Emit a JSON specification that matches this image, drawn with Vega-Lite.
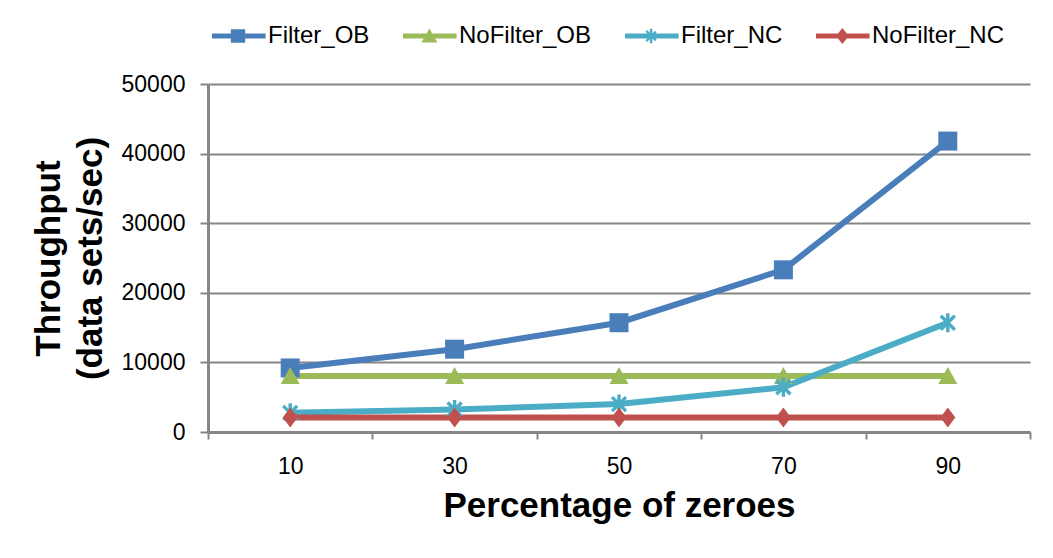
{
  "$schema": "https://vega.github.io/schema/vega-lite/v6.json",
  "width": 822,
  "height": 348,
  "autosize": {"type": "none"},
  "padding": {"left": 208, "top": 84, "right": 23, "bottom": 126},
  "background": "white",
  "config": {"view": {"stroke": null}, "font": "Liberation Sans"},
  "data": {
    "values": [
      {"pct": "10", "series": "Filter_OB", "value": 9200},
      {"pct": "30", "series": "Filter_OB", "value": 11900},
      {"pct": "50", "series": "Filter_OB", "value": 15700},
      {"pct": "70", "series": "Filter_OB", "value": 23300},
      {"pct": "90", "series": "Filter_OB", "value": 41800},
      {"pct": "10", "series": "NoFilter_OB", "value": 8050},
      {"pct": "30", "series": "NoFilter_OB", "value": 8050},
      {"pct": "50", "series": "NoFilter_OB", "value": 8050},
      {"pct": "70", "series": "NoFilter_OB", "value": 8050},
      {"pct": "90", "series": "NoFilter_OB", "value": 8050},
      {"pct": "10", "series": "Filter_NC", "value": 2750},
      {"pct": "30", "series": "Filter_NC", "value": 3240},
      {"pct": "50", "series": "Filter_NC", "value": 4010},
      {"pct": "70", "series": "Filter_NC", "value": 6430},
      {"pct": "90", "series": "Filter_NC", "value": 15700},
      {"pct": "10", "series": "NoFilter_NC", "value": 2100},
      {"pct": "30", "series": "NoFilter_NC", "value": 2100},
      {"pct": "50", "series": "NoFilter_NC", "value": 2100},
      {"pct": "70", "series": "NoFilter_NC", "value": 2100},
      {"pct": "90", "series": "NoFilter_NC", "value": 2100}
    ]
  },
  "encoding": {
    "x": {
      "field": "pct",
      "type": "ordinal",
      "bandPosition": 0.5,
      "sort": ["10", "30", "50", "70", "90"],
      "scale": {"type": "band", "paddingInner": 0, "paddingOuter": 0},
      "axis": {
        "title": "Percentage of zeroes",
        "titleFont": "Liberation Sans",
        "titleFontSize": 35,
        "titleFontWeight": "bold",
        "titleColor": "#000000",
        "titleY": 84,
        "titleBaseline": "alphabetic",
        "labelAngle": 0,
        "labelFont": "Liberation Sans",
        "labelFontSize": 23,
        "labelColor": "#000000",
        "labelPadding": 16,
        "tickBand": "extent",
        "tickSize": 7,
        "tickWidth": 2,
        "tickColor": "#868686",
        "domainColor": "#868686",
        "domainWidth": 3,
        "grid": false
      }
    },
    "y": {
      "field": "value",
      "type": "quantitative",
      "scale": {"domain": [0, 50000], "nice": false},
      "axis": {
        "values": [0, 10000, 20000, 30000, 40000, 50000],
        "format": "d",
        "grid": true,
        "gridColor": "#868686",
        "gridWidth": 2,
        "domainColor": "#868686",
        "domainWidth": 3,
        "tickColor": "#868686",
        "tickWidth": 2,
        "tickSize": 8,
        "labelFont": "Liberation Sans",
        "labelFontSize": 23,
        "labelColor": "#000000",
        "labelPadding": 15,
        "title": ["Throughput", "(data sets/sec)"],
        "titleFont": "Liberation Sans",
        "titleFontSize": 35,
        "titleFontWeight": "bold",
        "titleColor": "#000000",
        "titleX": -160,
        "titleY": 174,
        "titleAngle": 270,
        "titleAlign": "center",
        "titleBaseline": "middle",
        "titleLineHeight": 42
      }
    }
  },
  "layer": [
    {
      "transform": [{"filter": "datum.series === 'Filter_OB'"}],
      "mark": {"type": "line", "strokeWidth": 6, "color": "#4A7EBB"}
    },
    {
      "transform": [{"filter": "datum.series === 'NoFilter_OB'"}],
      "mark": {"type": "line", "strokeWidth": 6, "color": "#9BBB59"}
    },
    {
      "transform": [{"filter": "datum.series === 'Filter_NC'"}],
      "mark": {"type": "line", "strokeWidth": 6, "color": "#4BACC6"}
    },
    {
      "transform": [{"filter": "datum.series === 'NoFilter_NC'"}],
      "mark": {"type": "line", "strokeWidth": 6, "color": "#C0504D"}
    },
    {
      "transform": [{"filter": "datum.series === 'Filter_OB'"}],
      "mark": {"type": "point", "filled": true, "opacity": 1, "size": 400, "strokeWidth": 0, "color": "#4A7EBB", "shape": "M-0.95,-0.95H0.95V0.95H-0.95Z"}
    },
    {
      "transform": [{"filter": "datum.series === 'NoFilter_OB'"}],
      "mark": {"type": "point", "filled": true, "opacity": 1, "size": 400, "strokeWidth": 0, "color": "#9BBB59", "shape": "M0,-0.9L0.95,0.8H-0.95Z"}
    },
    {
      "transform": [{"filter": "datum.series === 'Filter_NC'"}],
      "mark": {"type": "point", "filled": true, "opacity": 1, "size": 400, "strokeWidth": 0, "color": "#4BACC6", "shape": "M-0.17,-0.95H0.17V0.95H-0.17Z M-0.58,-0.82L0.82,0.58L0.58,0.82L-0.82,-0.58Z M-0.82,0.58L0.58,-0.82L0.82,-0.58L-0.58,0.82Z"}
    },
    {
      "transform": [{"filter": "datum.series === 'NoFilter_NC'"}],
      "mark": {"type": "point", "filled": true, "opacity": 1, "size": 400, "strokeWidth": 0, "color": "#C0504D", "shape": "M0,-1L0.75,0L0,1L-0.75,0Z"}
    },
    {
      "mark": {"type": "point", "filled": true, "opacity": 0, "size": 10, "strokeWidth": 0},
      "encoding": {
        "color": {
          "field": "series",
          "type": "nominal",
          "scale": {
            "domain": ["Filter_OB", "NoFilter_OB", "Filter_NC", "NoFilter_NC"],
            "range": ["#4A7EBB", "#9BBB59", "#4BACC6", "#C0504D"]
          },
          "legend": {
            "orient": "none",
            "legendX": 0,
            "legendY": -60,
            "direction": "horizontal",
            "title": null,
            "labelFont": "Liberation Sans",
            "labelFontSize": 24,
            "labelColor": "#000000",
            "labelLimit": 300,
            "symbolSize": 256,
            "labelOffset": 36,
            "columnPadding": 29,
            "symbolOpacity": 1,
            "symbolStrokeWidth": 0
          }
        },
        "shape": {
          "field": "series",
          "type": "nominal",
          "scale": {
            "domain": ["Filter_OB", "NoFilter_OB", "Filter_NC", "NoFilter_NC"],
            "range": [
              "M-1,-0.32H5.7V0.32H-1Z M1.35,-0.85H3.15V0.85H1.35Z",
              "M-1,-0.32H5.7V0.32H-1Z M2.3,-0.95L3.3,0.8H1.3Z",
              "M-1,-0.32H5.7V0.32H-1Z M2.1,-0.9H2.42V0.9H2.1Z M1.75,-0.75L2.95,0.45L2.75,0.65L1.55,-0.55Z M1.55,0.55L2.75,-0.65L2.95,-0.45L1.75,0.75Z",
              "M-1,-0.32H5.7V0.32H-1Z M2.3,-1L3.1,0L2.3,1L1.5,0Z"
            ]
          },
          "legend": {
            "orient": "none",
            "legendX": 0,
            "legendY": -60,
            "direction": "horizontal",
            "title": null,
            "labelFont": "Liberation Sans",
            "labelFontSize": 24,
            "labelColor": "#000000",
            "labelLimit": 300,
            "symbolSize": 256,
            "labelOffset": 36,
            "columnPadding": 29,
            "symbolOpacity": 1,
            "symbolStrokeWidth": 0
          }
        }
      }
    }
  ]
}
